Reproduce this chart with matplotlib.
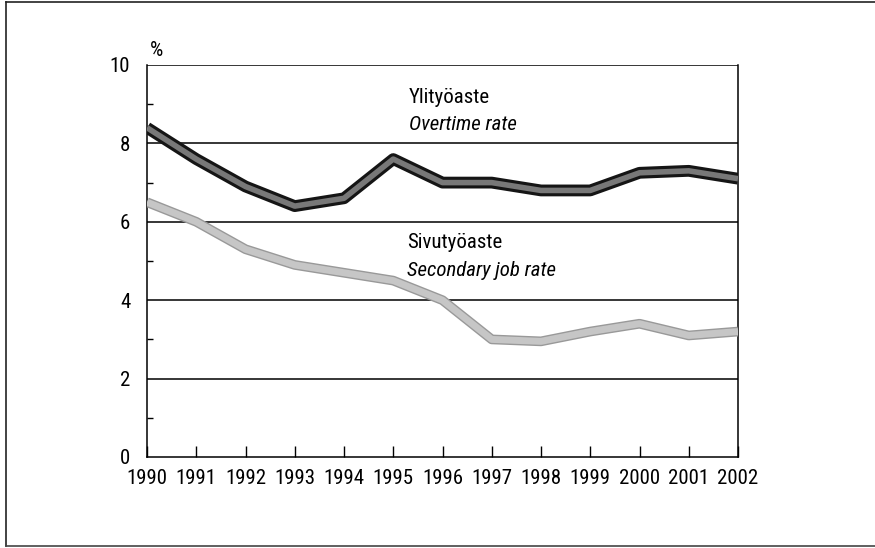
import matplotlib.pyplot as plt
from matplotlib.lines import Line2D
from matplotlib.ticker import MultipleLocator

plt.rcParams['font.family'] = ['Roboto Condensed', 'Archivo Narrow', 'PT Sans Narrow', 'Liberation Sans', 'DejaVu Sans']

years = [1990, 1991, 1992, 1993, 1994, 1995, 1996, 1997, 1998, 1999, 2000, 2001, 2002]
overtime = [8.4, 7.6, 6.9, 6.4, 6.6, 7.6, 7.0, 7.0, 6.8, 6.8, 7.25, 7.3, 7.1]
secondary = [6.5, 6.0, 5.3, 4.9, 4.7, 4.5, 4.0, 3.0, 2.95, 3.2, 3.4, 3.1, 3.2]

fig = plt.figure(figsize=(8.75, 5.48), dpi=100)
ax = fig.add_axes([147 / 875, 1 - 457 / 548, (738 - 147) / 875, (457 - 65) / 548])

# thick banded lines: dark edge + lighter fill
ax.plot(years, secondary, color='#999999', lw=7.0, solid_joinstyle='round', solid_capstyle='butt', zorder=3)
ax.plot(years, secondary, color='#c6c6c6', lw=5.0, solid_joinstyle='round', solid_capstyle='butt', zorder=3)
ax.plot(years, overtime, color='#151515', lw=8.5, solid_joinstyle='round', solid_capstyle='butt', zorder=4)
ax.plot(years, overtime, color='#787878', lw=4.0, solid_joinstyle='round', solid_capstyle='butt', zorder=4)

ax.set_xlim(1990, 2002)
ax.set_ylim(0, 10)
ax.set_xticks(years)
ax.set_xticklabels([str(y) for y in years])
ax.set_yticks([0, 2, 4, 6, 8, 10])
ax.yaxis.set_minor_locator(MultipleLocator(1))
for y in [2, 4, 6, 8, 10]:
    ax.axhline(y, color='black', lw=1.1, zorder=2)

ax.tick_params(axis='x', direction='in', length=8, width=1, labelsize=15, pad=9)
ax.tick_params(axis='y', which='major', direction='in', length=0, labelsize=15, pad=12)
ax.tick_params(axis='y', which='minor', direction='in', length=4, width=1)
for s in ['left', 'right', 'bottom']:
    ax.spines[s].set_linewidth(1.1)
ax.spines['top'].set_visible(False)

ax.text(0.005, 1.012, '%', transform=ax.transAxes, fontsize=15, ha='left', va='bottom')
ax.text(1995.32, 9.18, 'Ylityöaste', fontsize=15, ha='left', va='center')
ax.text(1995.32, 8.47, 'Overtime rate', fontsize=15, style='italic', ha='left', va='center')
ax.text(1995.28, 5.46, 'Sivutyöaste', fontsize=15, ha='left', va='center')
ax.text(1995.28, 4.77, 'Secondary job rate', fontsize=15, style='italic', ha='left', va='center')

# outer frame (top, left, bottom)
fig.add_artist(Line2D([6 / 875, 1], [1 - 2 / 548, 1 - 2 / 548], color='#222', lw=1.2, transform=fig.transFigure))
fig.add_artist(Line2D([6 / 875, 6 / 875], [1 - 2 / 548, 1 - 546 / 548], color='#222', lw=1.2, transform=fig.transFigure))
fig.add_artist(Line2D([6 / 875, 1], [1 - 546 / 548, 1 - 546 / 548], color='#444', lw=1.2, transform=fig.transFigure))

fig.savefig('out.png', dpi=100)
